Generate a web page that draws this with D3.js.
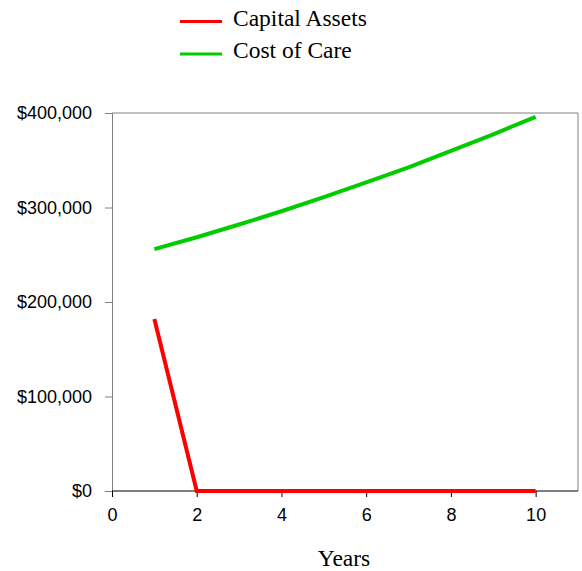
<!DOCTYPE html>
<html>
<head>
<meta charset="utf-8">
<script src="https://cdn.jsdelivr.net/npm/d3@7"></script>
<style>
  body { margin: 0; background: #fff; }
  svg { display: block; }
</style>
</head>
<body>
<svg id="chart" width="582" height="571"></svg>
<script>
// Projected values by year
const years = [1, 2, 3, 4, 5, 6, 7, 8, 9, 10];
const capitalAssets = [182000, 0, 0, 0, 0, 0, 0, 0, 0, 0];
const costOfCare = [256000, 268500, 282000, 296000, 311000, 326500, 342500, 360000, 377500, 396000];
const xTicks = [0, 2, 4, 6, 8, 10];
const yTicks = [0, 100000, 200000, 300000, 400000];
const seriesNames = ["Capital Assets", "Cost of Care"];
const seriesColors = ["#ff0000", "#00cc00"];

const svg = d3.select("#chart");
const plotLeft = 112, plotRight = 578, plotTop = 113, plotBottom = 491;

const x = d3.scaleLinear().domain([0, 11]).range([plotLeft, plotRight]);
const y = d3.scaleLinear().domain([0, 400000]).range([plotBottom, plotTop]);

// Frame (top and right edges)
svg.append("path")
  .attr("d", `M${plotLeft},${plotTop}H${plotRight}V${plotBottom}`)
  .attr("fill", "none")
  .attr("stroke", "#808080")
  .attr("stroke-width", 1);

// Y axis
const yAxis = svg.append("g")
  .attr("transform", `translate(${plotLeft},0)`)
  .call(d3.axisLeft(y).tickValues(yTicks).tickSize(7).tickPadding(13)
    .tickFormat(d => "$" + d3.format(",")(d)));
yAxis.select(".domain").attr("stroke", "#808080");
yAxis.selectAll(".tick line").attr("stroke", "#808080");
yAxis.selectAll("text")
  .attr("font-family", "Liberation Sans, Arial, sans-serif")
  .attr("font-size", 18)
  .attr("fill", "#000");

// X axis
const xAxis = svg.append("g")
  .attr("transform", `translate(0,${plotBottom})`)
  .call(d3.axisBottom(x).tickValues(xTicks).tickSizeInner(6).tickSizeOuter(0).tickPadding(11));
xAxis.select(".domain").attr("stroke", "#000").attr("d", `M${plotLeft},0H${plotRight}`);
xAxis.selectAll(".tick line").attr("stroke", "#000");
xAxis.selectAll("text")
  .attr("font-family", "Liberation Sans, Arial, sans-serif")
  .attr("font-size", 18)
  .attr("fill", "#000");

// X axis title
svg.append("text")
  .attr("x", 344)
  .attr("y", 566)
  .attr("text-anchor", "middle")
  .attr("font-family", "Liberation Serif, Times New Roman, serif")
  .attr("font-size", 23.5)
  .text("Years");

// Series lines
const line = d3.line().x((d, i) => x(years[i])).y(d => y(d));
[capitalAssets, costOfCare].forEach((vals, k) => {
  svg.append("path")
    .datum(vals)
    .attr("d", line)
    .attr("fill", "none")
    .attr("stroke", seriesColors[k])
    .attr("stroke-width", 4)
    .attr("stroke-linejoin", "miter");
});

// Legend
const legend = svg.append("g");
seriesNames.forEach((name, k) => {
  const ly = 21.5 + k * 32.5;
  legend.append("line")
    .attr("x1", 180).attr("x2", 222)
    .attr("y1", ly).attr("y2", ly)
    .attr("stroke", seriesColors[k])
    .attr("stroke-width", 3);
  legend.append("text")
    .attr("x", 233)
    .attr("y", ly + 4)
    .attr("font-family", "Liberation Serif, Times New Roman, serif")
    .attr("font-size", 23.5)
    .attr("fill", "#000")
    .text(name);
});
</script>
</body>
</html>
